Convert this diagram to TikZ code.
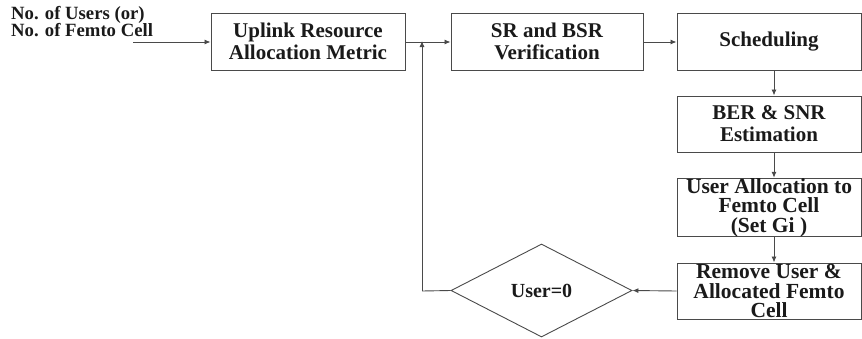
\documentclass[tikz,border=0pt]{standalone}
\usepackage{fontspec}
\setmainfont{Liberation Serif}
\usetikzlibrary{arrows.meta,shapes.geometric}
\definecolor{linec}{HTML}{4A4A4A}
\definecolor{textc}{HTML}{1A1A1A}
\tikzset{
  boxn/.style={draw=linec, line width=1pt, rectangle, minimum height=57pt, inner sep=0pt,
    align=center, text=textc, font=\fontsize{21}{22}\selectfont\bfseries},
  decn/.style={draw=linec, line width=0.9pt, diamond, aspect=1.95, minimum width=181pt, minimum height=93pt,
    inner sep=0pt, text=textc, font=\fontsize{20}{21}\selectfont\bfseries},
  arr/.style={draw=linec, line width=0.9pt, -{Latex[length=6pt,width=5pt]}},
  ln/.style={draw=linec, line width=0.9pt}
}
\begin{document}
\begin{tikzpicture}[x=1pt,y=-1pt]
\useasboundingbox (0,0) rectangle (862,338);
\node[anchor=north west, inner sep=0pt, align=left, text=textc,
  font=\fontsize{18.7}{17.5}\selectfont\bfseries] (inp) at (11,6) {No. of Users (or)\\No. of Femto Cell};
\node[boxn, minimum width=194pt] (up) at (308,41.5) {Uplink Resource\\Allocation Metric};
\node[boxn, minimum width=192pt] (sr) at (547,41.5) {SR and BSR\\Verification};
\node[boxn, minimum width=184pt] (sch) at (769,41.5) {Scheduling};
\node[boxn, minimum width=184pt, minimum height=56pt] (ber) at (769,124) {BER \& SNR\\Estimation};
\node[boxn, minimum width=184pt, font=\fontsize{21.5}{19.5}\selectfont\bfseries] (ua) at (769,207.5) {User Allocation to\\Femto Cell\\(Set Gi )};
\node[boxn, minimum width=184pt, minimum height=56pt, font=\fontsize{21.5}{19.5}\selectfont\bfseries] (rm) at (769,291) {Remove User \&\\Allocated Femto\\Cell};
\node[decn] (dec) at (541.5,290.5) {User=0};
\coordinate (in) at (133,42);
\coordinate (fb) at (422,291);
\coordinate (fbt) at (422,42);
\draw[arr] (in) -- (up.west |- in);
\draw[arr] (up.east |- in) -- (sr.west |- in);
\draw[arr] (sr.east |- in) -- (sch.west |- in);
\draw[arr] ([xshift=5pt]sch.south) -- ([xshift=5pt]ber.north);
\draw[arr] ([xshift=5pt]ber.south) -- ([xshift=5pt]ua.north);
\draw[arr] ([xshift=5pt]ua.south) -- ([xshift=5pt]rm.north);
\draw[arr] (rm.west) -- (dec.east);
\draw[ln] (dec.west) -- (fb);
\draw[arr] (fb) -- ([yshift=1pt]fbt);
\end{tikzpicture}
\end{document}
